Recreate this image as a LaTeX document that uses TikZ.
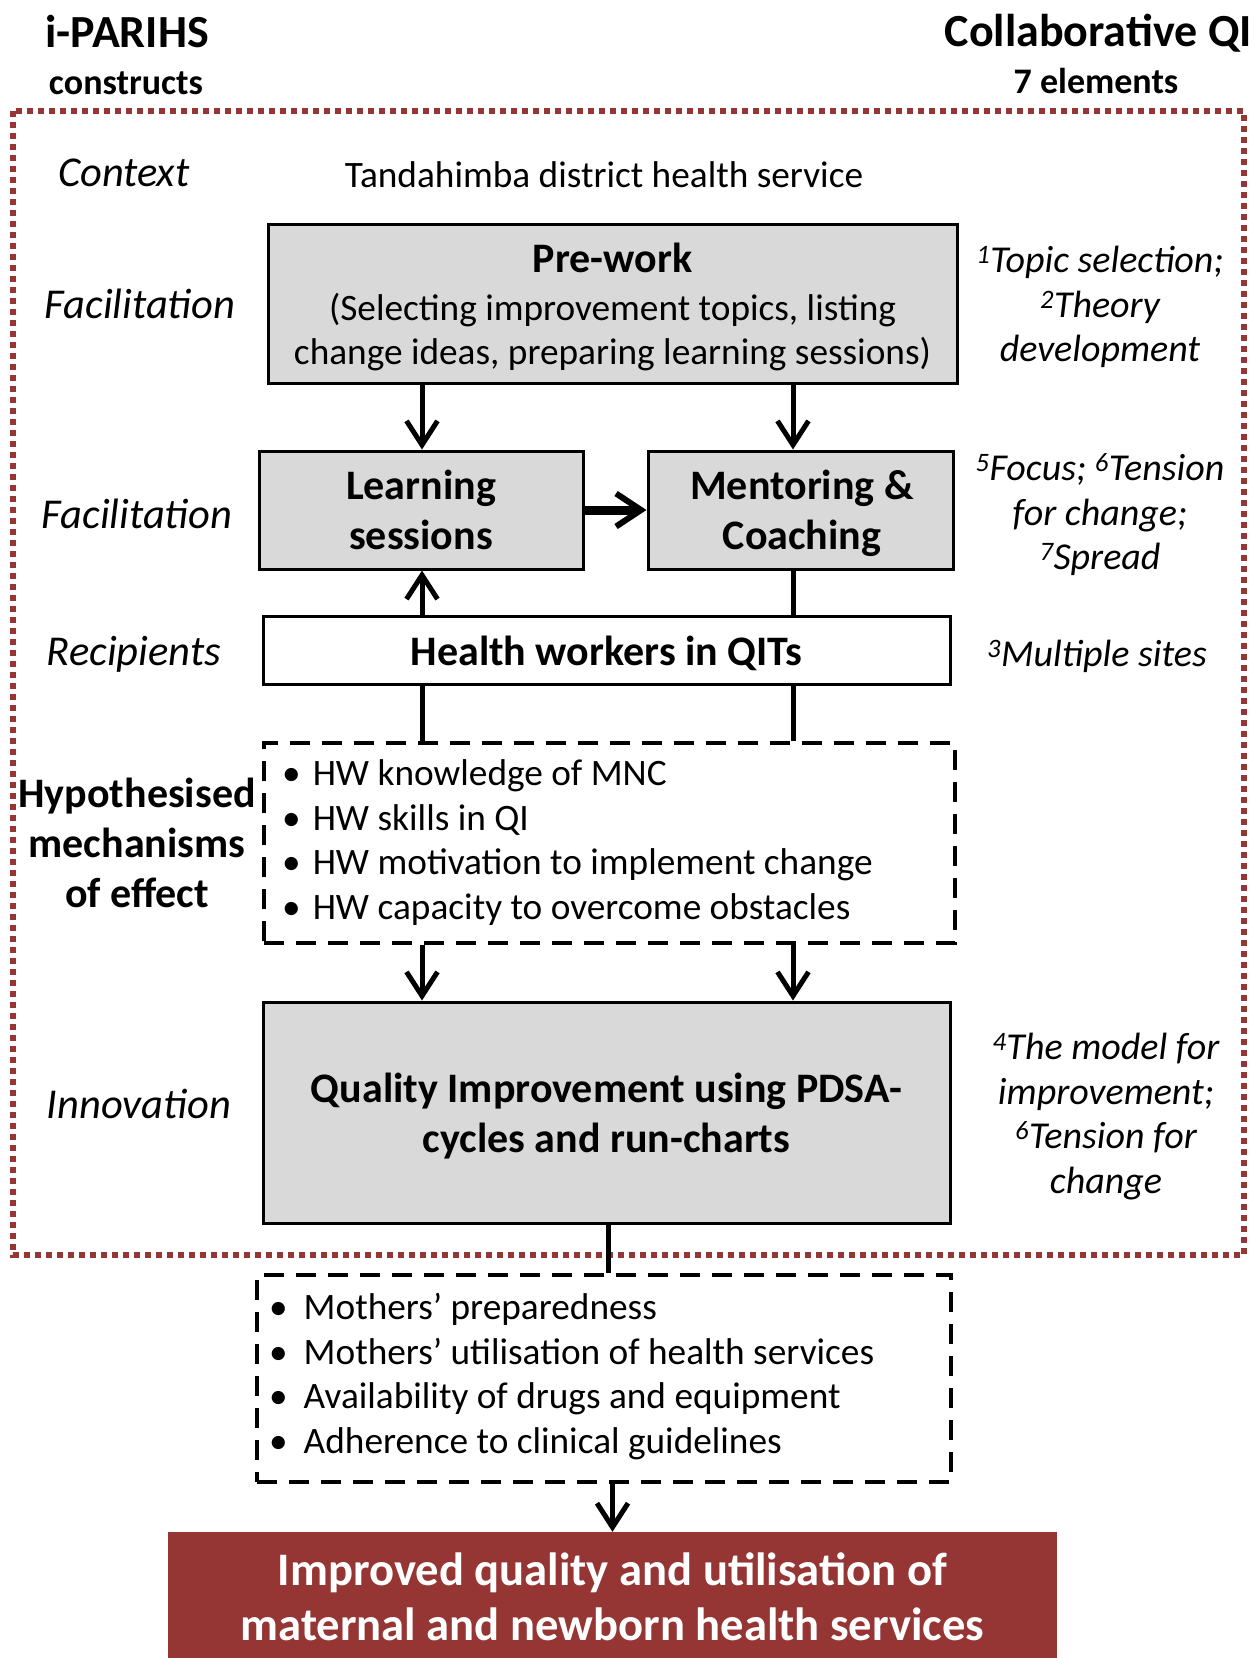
\documentclass[tikz,border=0pt]{standalone}
\usepackage{fontspec}
\setmainfont{Carlito}
\usetikzlibrary{arrows.meta}
\definecolor{framered}{HTML}{963634}
\definecolor{boxgray}{HTML}{D9D9D9}
\begin{document}
\begin{tikzpicture}[x=1pt,y=-1pt,
  solidbox/.style={draw=black,line width=3pt,fill=boxgray,inner sep=0pt},
  whitebox/.style={solidbox,fill=white},
  dashbox/.style={draw=black,line width=4.5pt,dash pattern=on 20pt off 12pt,inner sep=0pt},
  boxtext/.style={font=\fontsize{42}{50}\selectfont\bfseries,align=center,inner sep=0pt},
  lab/.style={font=\fontsize{42.5}{49}\selectfont\itshape,inner sep=0pt},
  note/.style={font=\fontsize{38}{44.5}\selectfont\itshape,align=center,inner sep=0pt},
  conn/.style={line width=5pt},
  arr/.style={conn,-{Straight Barb[length=24pt,width=31pt,line width=5pt]}},
  bigarr/.style={line width=9pt,-{Straight Barb[length=25pt,width=33pt,line width=6pt]}},
  bullets/.style={font=\fontsize{37.3}{44.7}\selectfont,align=left,inner sep=0pt,anchor=west},
]
\useasboundingbox (0,0) rectangle (1254,1658);
% frame
\draw[framered,line width=6pt,dash pattern=on 6pt off 5pt] (13,111) rectangle (1244,1255);
% headings
\node[font=\fontsize{46}{46}\selectfont\bfseries,inner sep=0pt] (t1) at (127,32) {i-PARIHS};
\node[font=\fontsize{36}{36}\selectfont\bfseries,inner sep=0pt] (t2) at (126,83) {constructs};
\node[font=\fontsize{46}{46}\selectfont\bfseries,inner sep=0pt,anchor=east] (t3) at (1252,33) {Collaborative QI};
\node[font=\fontsize{36}{36}\selectfont\bfseries,inner sep=0pt] (t4) at (1096,81) {7 elements};
% left labels
\node[lab] (ctx) at (124,173) {Context};
\node[font=\fontsize{37.3}{38}\selectfont,inner sep=0pt] (tand) at (604,175) {Tandahimba district health service};
\node[lab] (fac1) at (140,304) {Facilitation};
\node[lab] (fac2) at (137,514) {Facilitation};
\node[lab] (rec) at (134,654) {Recipients};
\node[font=\fontsize{42}{50}\selectfont\bfseries,align=center,inner sep=0pt] (hyp) at (137,843) {Hypothesised\\mechanisms\\of effect};
\node[lab] (inn) at (139,1104) {Innovation};
% right notes
\node[note] (n1) at (1100,307) {\textsuperscript{1}Topic selection;\\\textsuperscript{2}Theory\\development};
\node[note] (n2) at (1100,515) {\textsuperscript{5}Focus; \textsuperscript{6}Tension\\for change;\\\textsuperscript{7}Spread};
\node[note] (n3) at (1097,656) {\textsuperscript{3}Multiple sites};
\node[note] (n4) at (1106,1116.5) {\textsuperscript{4}The model for\\improvement;\\\textsuperscript{6}Tension for\\change};
% boxes
\node[solidbox,minimum width=689,minimum height=159] (pre) at (612.5,303.5) {};
\node[boxtext,font=\fontsize{37.3}{44.4}\selectfont] (pre-t) at (612.5,307)
  {{\bfseries\fontsize{42}{44.4}\selectfont Pre-work}\\[3pt](Selecting improvement topics, listing\\change ideas, preparing learning sessions)};
\node[solidbox,minimum width=324,minimum height=118] (learn) at (421,510) {};
\node[boxtext] (learn-t) at (421,510) {Learning\\sessions};
\node[solidbox,minimum width=305,minimum height=118] (ment) at (800.5,510) {};
\node[boxtext] (ment-t) at (802,513) {Mentoring \&\\Coaching};
\node[whitebox,minimum width=687,minimum height=68] (hw) at (606.5,650) {};
\node[boxtext] (hw-t) at (606.5,653) {Health workers in QITs};
\node[dashbox,minimum width=691,minimum height=200] (mech) at (609.5,843) {};
\node[bullets] (mechtext) at (282,842.5) {\textbullet\hspace{12pt}HW knowledge of MNC\\\textbullet\hspace{12pt}HW skills in QI\\\textbullet\hspace{12pt}HW motivation to implement change\\\textbullet\hspace{12pt}HW capacity to overcome obstacles};
\node[solidbox,minimum width=687,minimum height=221] (qi) at (606.5,1112.5) {};
\node[boxtext] (qi-t) at (606.5,1116) {Quality Improvement using PDSA-\\cycles and run-charts};
\node[dashbox,minimum width=694,minimum height=207] (out) at (604,1378.5) {};
\node[bullets] (outtext) at (269,1376.5) {\textbullet\hspace{16pt}Mothers’ preparedness\\\textbullet\hspace{16pt}Mothers’ utilisation of health services\\\textbullet\hspace{16pt}Availability of drugs and equipment\\\textbullet\hspace{16pt}Adherence to clinical guidelines};
\node[fill=framered,minimum width=889,minimum height=126,inner sep=0pt] (res) at (612.5,1595) {};
\node[text=white,align=center,inner sep=0pt,font=\fontsize{46.6}{55}\selectfont\bfseries] (res-t) at (612.5,1597) {Improved quality and utilisation of\\maternal and newborn health services};
% connectors
\coordinate (cL) at (422,0);
\coordinate (cR) at (793,0);
\coordinate (cM) at (608,0);
\draw[arr] (pre.south -| cL) -- (learn.north -| cL);
\draw[arr] (pre.south -| cR) -- (ment.north -| cR);
\draw[bigarr] (learn.east) -- (ment.west);
\draw[arr] (hw.north -| cL) -- (learn.south -| cL);
\draw[conn] (ment.south -| cR) -- (hw.north -| cR);
\draw[conn] (hw.south -| cL) -- (mech.north -| cL);
\draw[conn] (hw.south -| cR) -- (mech.north -| cR);
\draw[arr] (mech.south -| cL) -- (qi.north -| cL);
\draw[arr] (mech.south -| cR) -- (qi.north -| cR);
\draw[conn] (qi.south -| cM) -- (out.north -| cM);
\draw[arr] (out.south -| res.north) -- (res.north);
\end{tikzpicture}
\end{document}
